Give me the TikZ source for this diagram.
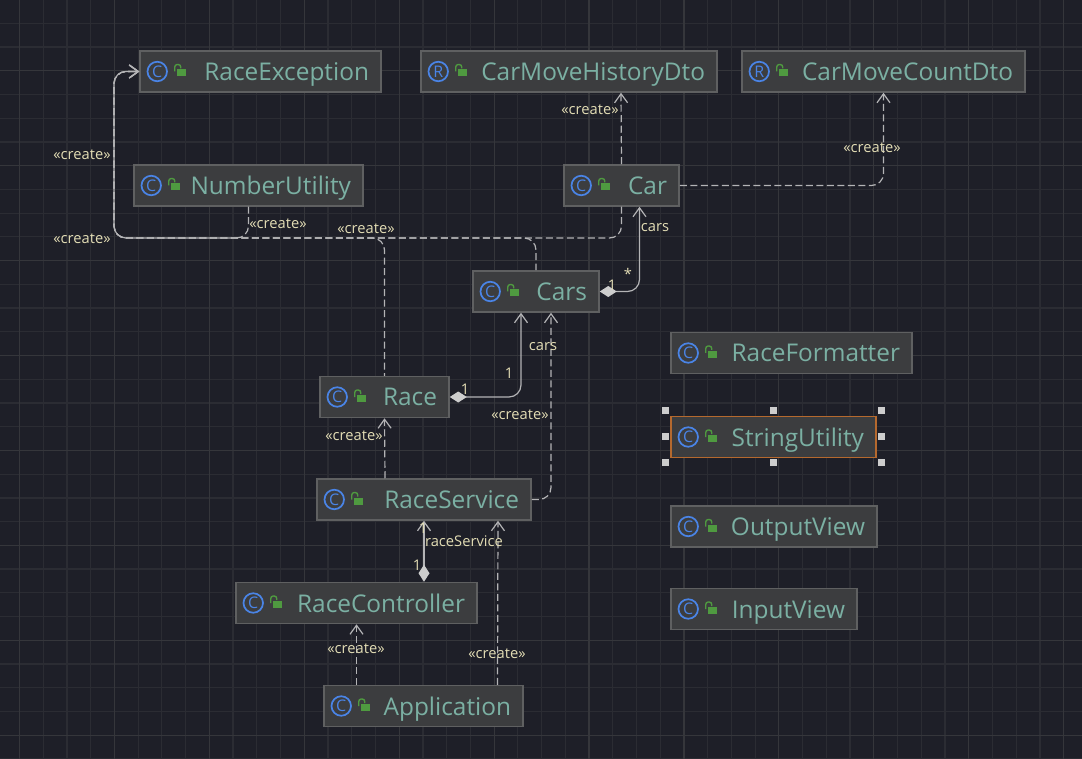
\documentclass[tikz,border=0pt]{standalone}
\usepackage{fontspec}
\setmainfont{Open Sans}
\usetikzlibrary{arrows.meta}
\definecolor{canvasbg}{HTML}{1E1F28}
\definecolor{gridminor}{HTML}{2B2C33}
\definecolor{gridmajor}{HTML}{35363B}
\definecolor{boxfill}{HTML}{3C3D3F}
\definecolor{boxedge}{HTML}{5F6061}
\definecolor{boxtext}{HTML}{7BB0A3}
\definecolor{iconblue}{HTML}{4A84E6}
\definecolor{lockgreen}{HTML}{4F9A40}
\definecolor{linkgray}{HTML}{B4B4B6}
\definecolor{tipgray}{HTML}{CDCDCD}
\definecolor{labeltext}{HTML}{E3DDB5}
\definecolor{pickedge}{HTML}{B5692E}
\tikzset{
  classbox/.style={draw=boxedge, line width=1.5pt, fill=boxfill, text=boxtext, align=right, inner xsep=12pt, inner ysep=0pt, text height=29.5pt, text depth=11.5pt, font=\fontsize{24.4}{30}\selectfont},
  iconring/.style={circle, draw=iconblue, line width=1.7pt, minimum size=19.5pt, inner sep=0pt, text=iconblue, font=\fontsize{16}{18}\selectfont},
  linklabel/.style={text=labeltext, inner sep=0pt, yshift=-1pt, font=\fontsize{14.7}{17}\selectfont},
  handlebox/.style={draw=none, fill=tipgray, minimum size=6.5pt, inner sep=0pt},
  owns/.style={draw=linkgray, line width=1.2pt, rounded corners=12pt, {Diamond[length=17pt,width=11pt,fill=tipgray,color=tipgray]}-{Straight Barb[length=9pt,width=13pt]}},
  creates/.style={draw=linkgray, line width=1.2pt, rounded corners=12pt, dash pattern=on 7pt off 3.5pt, -{Straight Barb[length=9pt,width=13pt]}}
}
\begin{document}
\begin{tikzpicture}[x=1pt,y=-1pt]
\useasboundingbox (0,0) rectangle (1082,759);
\fill[canvasbg] (0,0) rectangle (1082,759);
\foreach \i in {0,...,44} {
  \draw[gridminor, line width=1.2pt] (19.5+23.73*\i,0) -- (19.5+23.73*\i,759);
}
\foreach \i in {0,...,31} {
  \draw[gridminor, line width=1.2pt] (0,23.3+23.73*\i) -- (1082,23.3+23.73*\i);
}
\foreach \i in {0,4,...,44} {
  \draw[gridmajor, line width=1.2pt] (19.5+23.73*\i,0) -- (19.5+23.73*\i,759);
}
\foreach \i in {2,6,...,30} {
  \draw[gridmajor, line width=1.2pt] (0,23.3+23.73*\i) -- (1082,23.3+23.73*\i);
}

\node[classbox, text width=217pt] (raceexception) at (260.5,71.5) {RaceException};
\node[classbox, text width=272pt] (historydto) at (569,71.5) {CarMoveHistoryDto};
\node[classbox, text width=259pt] (countdto) at (883.5,71.5) {CarMoveCountDto};
\node[classbox, text width=205pt] (numberutility) at (248.5,185.5) {NumberUtility};
\node[classbox, text width=91pt] (car) at (621.5,185.5) {Car};
\node[classbox, text width=102pt] (cars) at (536,291.5) {Cars};
\node[classbox, text width=217pt] (raceformatter) at (791.5,353) {RaceFormatter};
\node[classbox, text width=105pt] (race) at (384.5,397) {Race};
\node[classbox, text width=181pt, draw=pickedge] (stringutility) at (773.5,437) {StringUtility};
\node[classbox, text width=190pt] (raceservice) at (424,499.5) {RaceService};
\node[classbox, text width=182pt] (outputview) at (774,526.5) {OutputView};
\node[classbox, text width=217pt] (racecontroller) at (356.5,603) {RaceController};
\node[classbox, text width=162pt] (inputview) at (764,609) {InputView};
\node[classbox, text width=175pt] (application) at (423.5,706) {Application};

\foreach \cname/\cletter in {raceexception/C, historydto/R, countdto/R, numberutility/C, car/C, cars/C, raceformatter/C, race/C, stringutility/C, raceservice/C, outputview/C, racecontroller/C, inputview/C, application/C} {
  \node[iconring] (\cname icon) at ([xshift=18pt]\cname.west) {\cletter};
  \fill[lockgreen] ([xshift=37.5pt,yshift=-5pt]\cname.west) rectangle ([xshift=46.5pt,yshift=2pt]\cname.west);
  \draw[lockgreen, line width=1.4pt, rounded corners=2.5pt] ([xshift=35.5pt,yshift=0pt]\cname.west) -- ([xshift=35.5pt,yshift=7pt]\cname.west) -- ([xshift=41.5pt,yshift=7pt]\cname.west) -- ([xshift=41.5pt,yshift=3pt]\cname.west);
}

\foreach \hname/\hx/\hy in {a/-5/5.5, b/103/5.5, c/211/5.5, d/-5/-20.5, e/211/-20.5, f/-5/-46.5, g/103/-46.5, h/211/-46.5} {
  \node[handlebox] (handle\hname) at ([xshift=\hx pt,yshift=\hy pt]stringutility.north west) {};
}

\coordinate (busleft) at (114,238);

\draw[creates] (car.north) -- ([xshift=52pt]historydto.south);
\draw[creates] (car.east) -| (countdto.south);
\draw[creates] (car.south) |- (busleft) |- (raceexception.west);
\draw[creates] (numberutility.south) |- (busleft) |- (raceexception.west);
\draw[creates, dash phase=4.5pt] (race.north) |- (busleft) |- (raceexception.west);
\draw[creates, dash phase=0.5pt] (cars.north) |- (busleft) |- (raceexception.west);
\draw[owns] (cars.east) -| ([xshift=18pt]car.south);
\draw[owns] (race.east) -| ([xshift=-15pt]cars.south);
\draw[creates] (raceservice.east) -| ([xshift=15pt]cars.south);
\draw[creates] ([xshift=-39pt]raceservice.north) -- (race.south);
\draw[owns] (racecontroller.north -| raceservice.south) -- (raceservice.south);
\draw[creates] ([xshift=74pt]application.north) -- ([xshift=74pt]raceservice.south);
\draw[creates] ([xshift=-67pt]application.north) -- (racecontroller.south);

\node[linklabel] (labelhistory) at (590,109) {«create»};
\node[linklabel] (labelcount) at (872,147) {«create»};
\node[linklabel] (labelbusa) at (82,154) {«create»};
\node[linklabel] (labelbusb) at (82,238) {«create»};
\node[linklabel] (labelbusc) at (278,223) {«create»};
\node[linklabel] (labelbusd) at (366,228) {«create»};
\node[linklabel] (labelcarcars) at (655,227) {cars};
\node[linklabel] (labelcarstar) at (628,273) {*};
\node[linklabel] (labelcarone) at (612,284) {1};
\node[linklabel] (labelraceone) at (465,388) {1};
\node[linklabel] (labelcarsone) at (509,372) {1};
\node[linklabel] (labelracecars) at (543,346) {cars};
\node[linklabel] (labelservicecars) at (520,414) {«create»};
\node[linklabel] (labelservicerace) at (354,435) {«create»};
\node[linklabel] (labelservicetop) at (423,527) {1};
\node[linklabel] (labelservice) at (464,540) {raceService};
\node[linklabel] (labelserviceone) at (417,564) {1};
\node[linklabel] (labelappservice) at (497,653) {«create»};
\node[linklabel] (labelappcontroller) at (356,648) {«create»};
\end{tikzpicture}
\end{document}
